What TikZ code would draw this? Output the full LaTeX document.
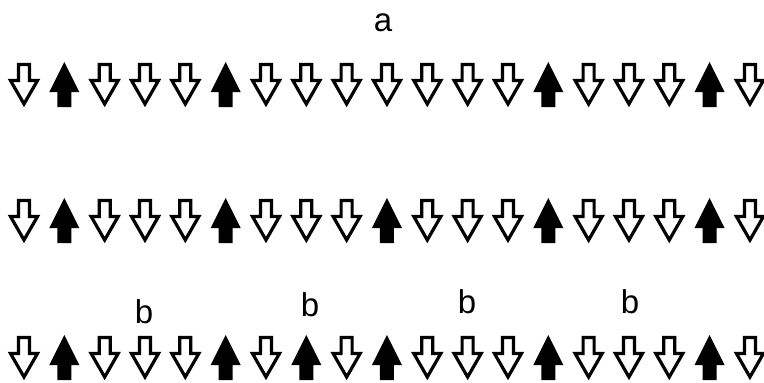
\documentclass[tikz,border=0pt]{standalone}
\usepackage{fontspec}
\setmainfont{Liberation Sans}
\begin{document}
\begin{tikzpicture}[x=1pt,y=-1pt,
  downarrow/.style={draw=black,fill=white,line width=3.2pt,line join=miter,miter limit=10},
  uparrow/.style={fill=black,draw=none},
  lbl/.style={font=\fontsize{33}{36}\selectfont,inner sep=0pt,anchor=base}]
\useasboundingbox (0,0) rectangle (764,383);
\def\dx{40.33}
% rows: top y, pattern (1 = up)
\foreach \ytop/\pat in {62/{0,1,0,0,0,1,0,0,0,0,0,0,0,1,0,0,0,1,0},
                        198/{0,1,0,0,0,1,0,0,0,1,0,0,0,1,0,0,0,1,0},
                        335/{0,1,0,0,0,1,0,1,0,1,0,0,0,1,0,0,0,1,0}}{
  \foreach \t [count=\i from 0] in \pat {
    \pgfmathsetmacro{\cx}{24+\i*\dx}
    \ifnum\t=1
      \fill[uparrow] (\cx,\ytop) -- (\cx+15,\ytop+30) -- (\cx+7,\ytop+30) -- (\cx+7,\ytop+45)
        -- (\cx-7,\ytop+45) -- (\cx-7,\ytop+30) -- (\cx-15,\ytop+30) -- cycle;
    \else
      \draw[downarrow] (\cx-5.5,\ytop+2.5) -- (\cx+5.5,\ytop+2.5) -- (\cx+5.5,\ytop+18.5)
        -- (\cx+13.5,\ytop+18.5) -- (\cx,\ytop+42) -- (\cx-13.5,\ytop+18.5)
        -- (\cx-5.5,\ytop+18.5) -- cycle;
    \fi
  }
}
\node[lbl] (la) at (383,31) {a};
\node[lbl] (lb1) at (144,323) {b};
\node[lbl] (lb2) at (310,316) {b};
\node[lbl] (lb3) at (467,313) {b};
\node[lbl] (lb4) at (630,313) {b};
\end{tikzpicture}
\end{document}
